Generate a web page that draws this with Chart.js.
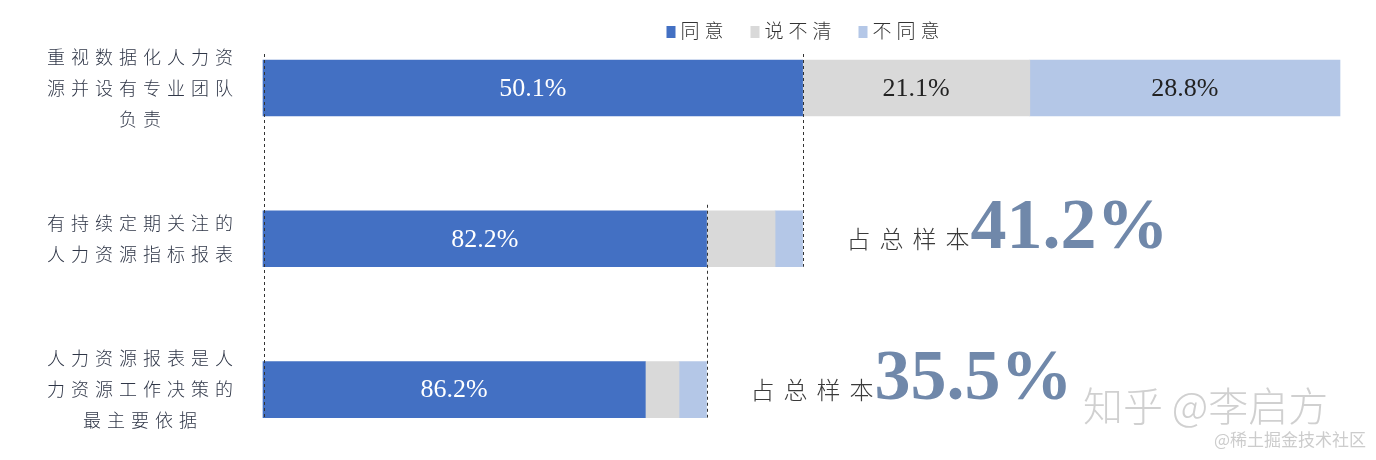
<!DOCTYPE html>
<html><head><meta charset="utf-8">
<script src="https://cdn.jsdelivr.net/npm/chart.js@4/dist/chart.umd.min.js"></script>
<style>html,body{margin:0;padding:0;background:#fff;overflow:hidden}#wrap{width:1376px;height:460px;position:relative}</style>
</head><body><div id="wrap"><canvas id="c"></canvas></div>
<script>
// ---- data ----
const categories = [
  ["重视数据化人力资", "源并设有专业团队", "负责"],
  ["有持续定期关注的", "人力资源指标报表"],
  ["人力资源报表是人", "力资源工作决策的", "最主要依据"]
];
const seriesNames = ["同意", "说不清", "不同意"];
const agree = [50.1, 82.2, 86.2];
const unclear = [21.1, 12.7, 7.6];
const disagree = [28.8, 5.1, 6.2];
const shareOfSample = [null, 41.2, 35.5];
const seriesColors = ["#4370c3", "#d9d9d9", "#b4c7e7"];
const watermark = "知乎 @李启方";
const watermark2 = "@稀土掘金技术社区";

// each bar is drawn as the share of the previous bar's "agree" part
const base = [];
agree.forEach((v, i) => base.push(i === 0 ? 100 : base[i - 1] * agree[i - 1] / 100));
const raw = [agree, unclear, disagree];
const scaled = raw.map(arr => arr.map((v, i) => v * base[i] / 100));

const CJK = "'Noto Sans CJK SC', 'Noto Sans', sans-serif";
const SERIF = "'Liberation Serif', 'DejaVu Serif', serif";

const spacingPlugin = {
  id: 'spacing',
  beforeLayout(chart) { chart.ctx.letterSpacing = '6px'; },
  beforeDraw(chart) { chart.ctx.letterSpacing = '6px'; }
};

const overlayPlugin = {
  id: 'overlay',
  afterDatasetsDraw(chart) {
    const ctx = chart.ctx;
    const area = chart.chartArea;
    const metas = chart.data.datasets.map((d, i) => chart.getDatasetMeta(i));
    ctx.save();
    // data labels
    ctx.letterSpacing = '0px';
    ctx.textAlign = 'center';
    ctx.textBaseline = 'middle';
    ctx.font = '26px ' + SERIF;
    metas.forEach((meta, di) => {
      meta.data.forEach((el, j) => {
        if (di > 0 && j > 0) return;
        const v = raw[di][j];
        ctx.fillStyle = di === 0 ? '#ffffff' : '#222222';
        ctx.fillText(v.toFixed(1) + '%', (el.x + el.base) / 2, el.y + 1);
      });
    });
    // dashed connectors
    ctx.strokeStyle = '#333';
    ctx.lineWidth = 1;
    ctx.setLineDash([3, 3]);
    const first = metas[0].data[0];
    const lastIdx = metas[0].data.length - 1;
    const last = metas[0].data[lastIdx];
    const lx = Math.round(first.base) + 1.5;
    ctx.beginPath();
    ctx.moveTo(lx, first.y - first.height / 2 - 6);
    ctx.lineTo(lx, last.y + last.height / 2);
    ctx.stroke();
    for (let j = 0; j < lastIdx; j++) {
      const a = metas[0].data[j];
      const b = metas[0].data[j + 1];
      const x = Math.round(a.x) + 0.5;
      ctx.beginPath();
      ctx.moveTo(x, a.y - a.height / 2 - 6);
      ctx.lineTo(x, b.y + b.height / 2);
      ctx.stroke();
    }
    ctx.setLineDash([]);
    // share of sample annotations
    const tops = metas[metas.length - 1].data;
    shareOfSample.forEach((s, j) => {
      if (s == null) return;
      const el = tops[j];
      let x = el.x + 44;
      const y = el.y + 9;
      ctx.textAlign = 'left';
      ctx.textBaseline = 'alphabetic';
      ctx.font = '300 24px ' + CJK;
      ctx.letterSpacing = '9px';
      ctx.fillStyle = '#3a3a3a';
      const pre = '占总样本';
      ctx.fillText(pre, x, y);
      x += ctx.measureText(pre).width - 8;
      ctx.letterSpacing = '0px';
      ctx.font = 'bold 72px ' + SERIF;
      ctx.fillStyle = '#7088aa';
      ctx.fillText(s.toFixed(1) + '%', x, y);
    });
    // watermarks
    ctx.textAlign = 'left';
    ctx.textBaseline = 'alphabetic';
    ctx.letterSpacing = '0px';
    ctx.font = '300 40px ' + CJK;
    ctx.fillStyle = 'rgba(170,170,170,0.55)';
    ctx.fillText(watermark, 1083, 421);
    ctx.textAlign = 'right';
    ctx.font = '17px ' + CJK;
    ctx.fillStyle = 'rgba(170,170,170,0.6)';
    ctx.fillText(watermark2, 1366, 446);
    // legend
    ctx.textAlign = 'left';
    ctx.textBaseline = 'middle';
    ctx.font = '300 19px ' + CJK;
    ctx.letterSpacing = '5px';
    const box = 10, gapBox = 4, gapItem = 22;
    const widths = seriesNames.map(n => box + gapBox + ctx.measureText(n).width);
    const total = widths.reduce((a, b) => a + b, 0) + gapItem * (widths.length - 1);
    let lxp = (area.left + area.right) / 2 + 4 - total / 2;
    const ly = 31;
    seriesNames.forEach((n, i) => {
      ctx.fillStyle = seriesColors[i];
      ctx.fillRect(lxp, ly - box / 2, box - 1, box + 2);
      ctx.fillStyle = '#333';
      ctx.fillText(n, lxp + box + gapBox, ly);
      lxp += widths[i] + gapItem;
    });
    ctx.restore();
  }
};

new Chart(document.getElementById('c'), {
  type: 'bar',
  data: {
    labels: categories,
    datasets: seriesNames.map((n, i) => ({
      label: n,
      data: scaled[i],
      backgroundColor: seriesColors[i],
      borderWidth: 0,
      barThickness: 56,
      clip: false
    }))
  },
  options: {
    indexAxis: 'y',
    responsive: true,
    maintainAspectRatio: false,
    animation: false,
    layout: { padding: { top: 88, bottom: 68, left: 30, right: 36 } },
    plugins: { legend: { display: false }, tooltip: { enabled: false } },
    scales: {
      x: { stacked: true, min: 0, max: 100, display: false },
      y: {
        stacked: true,
        offset: false,
        grid: { display: false, drawTicks: false },
        border: { display: false },
        ticks: {
          crossAlign: 'center',
          padding: 24,
          color: '#2f3647',
          font: { family: CJK, size: 18, weight: 300, lineHeight: 1.72 }
        },
        afterFit(scale) { scale.width = 233; }
      }
    }
  },
  plugins: [spacingPlugin, overlayPlugin]
});
</script>
</body></html>
